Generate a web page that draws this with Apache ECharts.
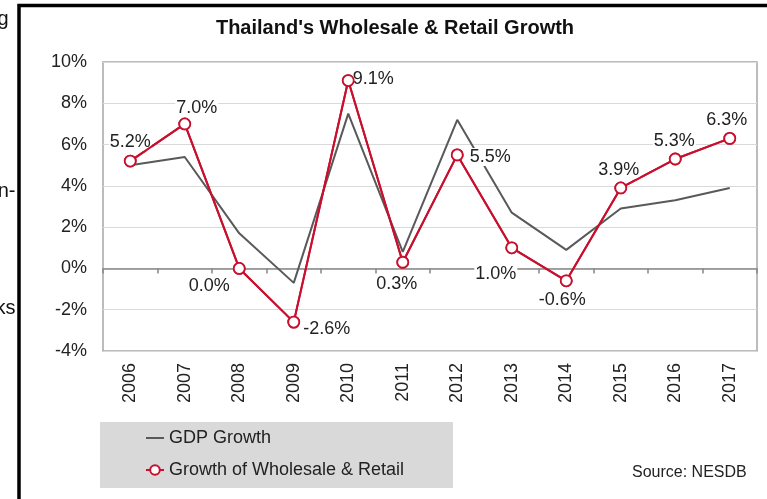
<!DOCTYPE html>
<html>
<head>
<meta charset="utf-8">
<style>
  html, body { margin: 0; padding: 0; background: #fff; }
  #chart { width: 767px; height: 499px; }
</style>
<script src="https://cdn.jsdelivr.net/npm/echarts@6/dist/echarts.min.js"></script>
</head>
<body>
<div id="chart"></div>
<script>
// Years on the category axis
const years = ['2006', '2007', '2008', '2009', '2010', '2011', '2012', '2013', '2014', '2015', '2016', '2017'];
// Real GDP growth, %
const gdpGrowth = [5.0, 5.4, 1.7, -0.7, 7.5, 0.8, 7.2, 2.7, 0.9, 2.9, 3.3, 3.9];
// Growth of wholesale & retail trade, %
const retailGrowth = [5.2, 7.0, 0.0, -2.6, 9.1, 0.3, 5.5, 1.0, -0.6, 3.9, 5.3, 6.3];
// Value-axis ticks
const yMin = -4, yMax = 10, yStep = 2;

// Where each value label sits relative to its marker centre [dx, dy]
const labelNudge = [
  [0, -19], [12, -16], [-30, 18], [33, 7], [25, -2], [-6, 22],
  [33, 2], [-16, 26], [-4, 19], [-2, -18], [-1, -18], [-3, -18]
];

const FONT = "'Liberation Sans', Arial, Helvetica, sans-serif";
const TEXT = '#222';
const RED = '#c8102e';
const GREY = '#595959';

const chart = echarts.init(document.getElementById('chart'), null, { renderer: 'canvas' });

// shared look of the retail line and its hollow markers
const retailLine = {
  type: 'line',
  symbol: 'circle',
  symbolSize: 11,
  showAllSymbol: true,
  lineStyle: { color: RED, width: 2 },
  itemStyle: { color: '#fff', borderColor: RED, borderWidth: 1.8 }
};

chart.setOption({
  backgroundColor: '#fff',
  animation: false,
  textStyle: { fontFamily: FONT },
  title: {
    text: "Thailand's Wholesale & Retail Growth",
    left: 395,
    top: 18,
    textAlign: 'center',
    padding: 0,
    textStyle: { fontFamily: FONT, fontSize: 20, fontWeight: 'bold', color: '#111' }
  },
  grid: {
    left: 103, top: 62, right: 10, bottom: 148,
    show: true,
    backgroundColor: '#fff',
    borderColor: '#a6a6a6',
    borderWidth: 1.5
  },
  xAxis: [
    {
      type: 'category',
      data: years,
      position: 'bottom',
      boundaryGap: true,
      axisLine: { show: false, onZero: false },
      axisTick: { show: false },
      splitLine: { show: false },
      axisLabel: { rotate: 90, margin: 12, fontSize: 18, color: TEXT, fontFamily: FONT, interval: 0 }
    },
    {
      // zero line with its tick marks
      type: 'category',
      data: years,
      position: 'bottom',
      boundaryGap: true,
      axisLine: { show: true, onZero: true, lineStyle: { color: '#868686', width: 1.5 } },
      axisTick: { show: true, length: 5, interval: 0, lineStyle: { color: '#868686', width: 1.5 } },
      axisLabel: { show: false },
      splitLine: { show: false }
    }
  ],
  yAxis: {
    type: 'value',
    min: yMin,
    max: yMax,
    interval: yStep,
    axisLine: { show: false },
    axisTick: { show: false },
    axisLabel: { formatter: '{value}%', fontSize: 18, color: TEXT, margin: 16, fontFamily: FONT },
    splitLine: { lineStyle: { color: '#d9d9d9', width: 1 } }
  },
  legend: {
    orient: 'vertical',
    left: 145,
    top: 428,
    padding: 0,
    itemWidth: 18,
    itemHeight: 12,
    itemGap: 12,
    selectedMode: false,
    textStyle: { fontFamily: FONT, fontSize: 18, color: TEXT, lineHeight: 20 },
    data: [
      { name: 'GDP Growth', itemStyle: { opacity: 0 } },
      { name: 'Growth of Wholesale & Retail' }
    ]
  },
  graphic: [
    {
      type: 'rect', z: -1,
      shape: { x: 100, y: 422, width: 353, height: 66 },
      style: { fill: '#d9d9d9' }
    },
    {
      type: 'text', left: 632, top: 465,
      style: { text: 'Source: NESDB', font: '16px ' + FONT, fill: TEXT }
    },
    {
      type: 'rect',
      shape: { x: 19, y: 5.5, width: 900, height: 700 },
      style: { fill: 'none', stroke: '#000', lineWidth: 3.5 }
    },
    { type: 'text', x: 8.5, y: 19, style: { text: 'g', font: '20px ' + FONT, fill: '#111', align: 'right', verticalAlign: 'middle' } },
    { type: 'text', x: 15.5, y: 191, style: { text: 'n-', font: '20px ' + FONT, fill: '#111', align: 'right', verticalAlign: 'middle' } },
    { type: 'text', x: 15.5, y: 308, style: { text: 'ks', font: '20px ' + FONT, fill: '#111', align: 'right', verticalAlign: 'middle' } }
  ],
  series: [
    {
      name: 'GDP Growth',
      type: 'line',
      data: gdpGrowth,
      symbol: 'none',
      lineStyle: { color: GREY, width: 2 },
      itemStyle: { color: GREY },
      z: 2
    },
    Object.assign({}, retailLine, {
      // carries the value labels; their white boxes sit over the grey line
      name: 'Growth of Wholesale & Retail',
      data: retailGrowth.map((v, i) => ({
        value: v,
        label: { offset: labelNudge[i] }
      })),
      label: {
        show: true,
        position: 'inside',
        formatter: p => p.value.toFixed(1) + '%',
        fontFamily: FONT,
        fontSize: 18,
        color: TEXT,
        textBorderWidth: 0,
        backgroundColor: '#fff',
        padding: [0, 1]
      },
      z: 3
    }),
    Object.assign({}, retailLine, {
      // red line and markers kept above the label boxes
      name: 'retail-top',
      data: retailGrowth,
      label: { show: false },
      z: 4
    })
  ]
});
</script>
</body>
</html>
